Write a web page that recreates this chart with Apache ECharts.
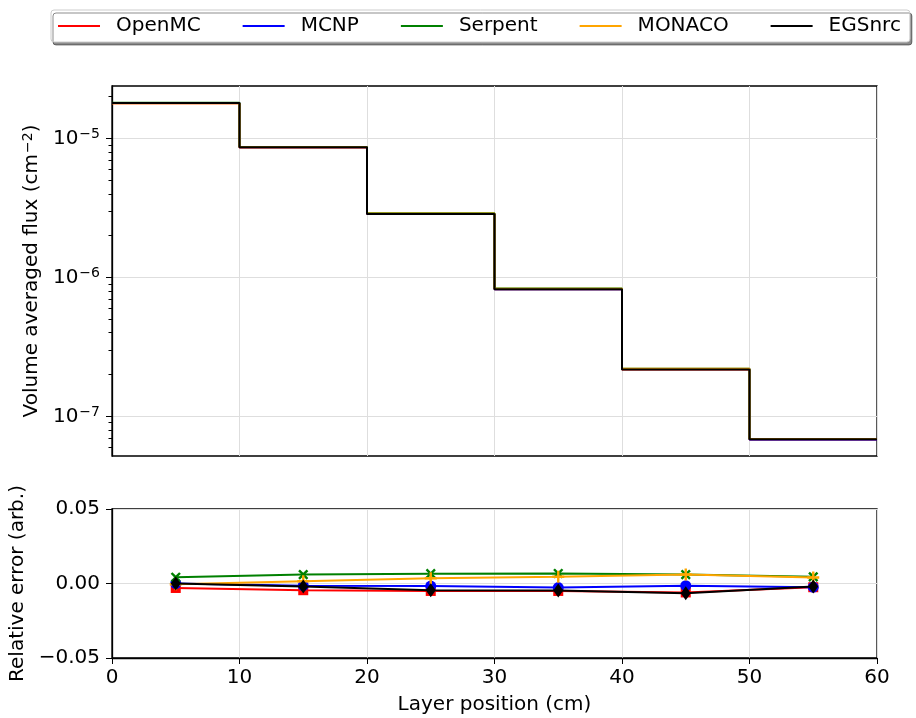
<!DOCTYPE html>
<html>
<head>
<meta charset="utf-8">
<script src="https://cdn.jsdelivr.net/npm/echarts@6/dist/echarts.min.js"></script>
<style>
html,body{margin:0;padding:0;background:#fff;}
#chart{width:916px;height:718px;}
</style>
</head>
<body>
<div id="chart"></div>
<script>
// ---- data ----
const codes = ['OpenMC', 'MCNP', 'Serpent', 'MONACO', 'EGSnrc'];
const colors = ['#ff0000', '#0000ff', '#008000', '#ffa500', '#000000'];
const layerEdges = [0, 10, 20, 30, 40, 50, 60];
const layerCentres = [5, 15, 25, 35, 45, 55];

const fluxOpenMC  = [1.795e-5, 8.62e-6, 2.866e-6, 8.21e-7, 2.177e-7, 6.82e-8];
const fluxMCNP    = [1.800e-5, 8.65e-6, 2.875e-6, 8.23e-7, 2.187e-7, 6.82e-8];
const fluxSerpent = [1.808e-5, 8.71e-6, 2.900e-6, 8.31e-7, 2.200e-7, 6.87e-8];
const fluxMONACO  = [1.799e-5, 8.67e-6, 2.890e-6, 8.29e-7, 2.200e-7, 6.87e-8];
const fluxEGSnrc  = [1.800e-5, 8.64e-6, 2.867e-6, 8.21e-7, 2.176e-7, 6.83e-8];

const errOpenMC  = [-0.0030, -0.0045, -0.0050, -0.0050, -0.0060, -0.0025];
const errMCNP    = [ 0.0000, -0.0015, -0.0017, -0.0027, -0.0015, -0.0025];
const errSerpent = [ 0.0042,  0.0060,  0.0066,  0.0067,  0.0060,  0.0045];
const errMONACO  = [-0.0005,  0.0015,  0.0035,  0.0045,  0.0060,  0.0040];
const errEGSnrc  = [ 0.0000, -0.0020, -0.0045, -0.0047, -0.0065, -0.0020];

const fluxTicks = [1e-7, 1e-6, 1e-5];
const fluxMinorTicks = [6e-8, 7e-8, 8e-8, 9e-8,
  2e-7, 3e-7, 4e-7, 5e-7, 6e-7, 7e-7, 8e-7, 9e-7,
  2e-6, 3e-6, 4e-6, 5e-6, 6e-6, 7e-6, 8e-6, 9e-6, 2e-5];
const errTicks = [-0.05, 0, 0.05];

// ---- chart ----
const fluxes = [fluxOpenMC, fluxMCNP, fluxSerpent, fluxMONACO, fluxEGSnrc];
const errs = [errOpenMC, errMCNP, errSerpent, errMONACO, errEGSnrc];
const plusPath = 'path://M4,0H6V4H10V6H6V10H4V6H0V4H4Z';
const markers = [
  {symbol: 'rect', symbolSize: 10, rotate: 0},
  {symbol: 'circle', symbolSize: 11, rotate: 0},
  {symbol: plusPath, symbolSize: 12, rotate: 45},
  {symbol: plusPath, symbolSize: 12, rotate: 0},
  {symbol: 'diamond', symbolSize: [10, 14], rotate: 0}
];
const FONT = 'DejaVu Sans';
const gridCol = '#dedede';

const series = [];
codes.forEach((name, k) => {
  const f = fluxes[k];
  series.push({
    name: name, type: 'line', xAxisIndex: 0, yAxisIndex: 0,
    step: 'end', showSymbol: false, symbol: 'none',
    lineStyle: {color: colors[k], width: 2},
    itemStyle: {color: colors[k]},
    data: layerEdges.map((x, i) => [x, f[Math.min(i, f.length - 1)]]),
    z: 3 + k
  });
});
codes.forEach((name, k) => {
  const e = errs[k];
  series.push({
    name: name, type: 'line', xAxisIndex: 1, yAxisIndex: 2,
    symbol: markers[k].symbol, symbolSize: markers[k].symbolSize,
    symbolRotate: markers[k].rotate, showSymbol: true,
    lineStyle: {color: colors[k], width: 2},
    itemStyle: {color: colors[k], borderWidth: 0},
    data: layerCentres.map((x, i) => [x, e[i]]),
    z: 3 + k
  });
});

const supRich = {
  b: {fontSize: 20, fontFamily: FONT, color: '#000'},
  s: {fontSize: 14, fontFamily: FONT, color: '#000', verticalAlign: 'top', padding: [0, 0, 8, 1]}
};

const option = {
  animation: false,
  backgroundColor: '#ffffff',
  textStyle: {fontFamily: FONT},
  legend: {
    data: codes,
    left: 51, top: 10,
    orient: 'horizontal',
    icon: 'rect', itemWidth: 42, itemHeight: 2,
    itemGap: 42,
    padding: [5, 9, 5, 7],
    backgroundColor: '#ffffff',
    borderColor: '#cccccc', borderWidth: 1, borderRadius: 3,
    shadowColor: 'rgba(0,0,0,0.45)', shadowBlur: 0, shadowOffsetX: 2, shadowOffsetY: 3,
    textStyle: {fontFamily: FONT, fontSize: 20, color: '#000', padding: [0, 0, 0, 11], lineHeight: 22}
  },
  grid: [
    {left: 112, right: 39, top: 86, bottom: 262, show: true, borderColor: '#000', borderWidth: 1.3, backgroundColor: 'transparent', outerBoundsMode: 'none'},
    {left: 112, right: 39, top: 509, bottom: 60, show: true, borderColor: '#000', borderWidth: 1.3, backgroundColor: 'transparent', outerBoundsMode: 'none'}
  ],
  xAxis: [
    {
      type: 'value', gridIndex: 0, min: 0, max: 60, interval: 10,
      axisLine: {show: false}, axisTick: {show: false}, axisLabel: {show: false},
      splitLine: {show: true, lineStyle: {color: gridCol, width: 1}}
    },
    {
      type: 'value', gridIndex: 1, min: 0, max: 60, interval: 10,
      axisLine: {show: true, onZero: false, lineStyle: {color: '#000', width: 1.3}},
      axisTick: {show: true, inside: false, length: 6, lineStyle: {color: '#000', width: 1}},
      axisLabel: {show: true, fontSize: 20, fontFamily: FONT, color: '#000', margin: 10},
      splitLine: {show: true, lineStyle: {color: gridCol, width: 1}},
      name: 'Layer position (cm)', nameLocation: 'middle', nameGap: 37,
      nameTextStyle: {fontSize: 20, fontFamily: FONT, color: '#000'}
    }
  ],
  yAxis: [
    {
      type: 'log', logBase: 10, gridIndex: 0, min: 5.18e-8, max: 2.39e-5,
      axisLine: {show: true, onZero: false, lineStyle: {color: '#000', width: 1.3}},
      axisTick: {show: true, inside: false, length: 6, customValues: fluxTicks, lineStyle: {color: '#000', width: 1}},
      axisLabel: {
        show: true, customValues: fluxTicks, margin: 12,
        formatter: v => '{b|10}{s|−' + Math.round(-Math.log10(v)) + '}',
        rich: supRich
      },
      splitLine: {show: true, lineStyle: {color: gridCol, width: 1}},
      name: '{b|Volume averaged flux (cm}{s|−2}{b|)}', nameLocation: 'middle', nameGap: 64,
      nameTextStyle: {rich: supRich}
    },
    {
      type: 'log', logBase: 10, gridIndex: 0, min: 5.18e-8, max: 2.39e-5, position: 'left',
      axisLine: {show: false},
      axisTick: {show: true, inside: false, length: 3.5, customValues: fluxMinorTicks, lineStyle: {color: '#000', width: 1}},
      axisLabel: {show: false},
      splitLine: {show: false}
    },
    {
      type: 'value', gridIndex: 1, min: -0.05, max: 0.05, interval: 0.05,
      axisLine: {show: true, onZero: false, lineStyle: {color: '#000', width: 1.3}},
      axisTick: {show: true, inside: false, length: 6, lineStyle: {color: '#000', width: 1}},
      axisLabel: {
        show: true, fontSize: 20, fontFamily: FONT, color: '#000', margin: 12,
        formatter: v => (Math.abs(v) < 1e-9 ? 0 : v).toFixed(2).replace('-', '−')
      },
      splitLine: {show: true, lineStyle: {color: gridCol, width: 1}},
      name: 'Relative error (arb.)', nameLocation: 'middle', nameGap: 77,
      nameTextStyle: {fontSize: 20, fontFamily: FONT, color: '#000'}
    }
  ],
  series: series
};

const chart = echarts.init(document.getElementById('chart'), null, {renderer: 'canvas'});
chart.setOption(option);
</script>
</body>
</html>
